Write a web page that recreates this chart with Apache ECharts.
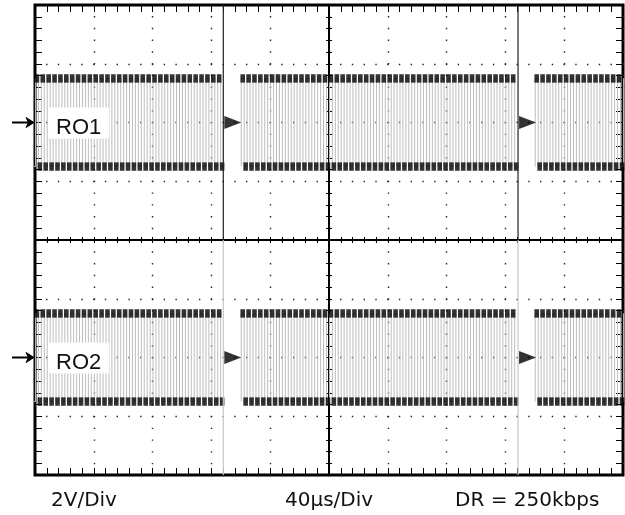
<!DOCTYPE html>
<html><head><meta charset="utf-8">
<script src="https://cdn.jsdelivr.net/npm/echarts@6/dist/echarts.min.js"></script>
<style>html,body{margin:0;padding:0;background:#fff}#c{width:625px;height:515px}</style>
</head><body><div id="c"></div>
<script>
// ---- data ----
const channelNames = ['RO1', 'RO2'];
const channelGroundV = [4, -4];        // arrow / marker level of each trace (V on screen)
const channelHighV = [5.5, -2.5];      // high level of each trace
const channelLowV = [2.5, -5.5];       // low level of each trace
const burstStartUs = [-259.7, -59.7, 140.3]; // first rising edge of each burst (µs, 0 = screen centre)
const burstPulses = [47, 47, 47];      // pulses in each burst
const pulsePeriodUs = 4;               // one pulse every 4 µs
const markerTimesUs = [-71.9, 128.6];  // burst-end marker lines / triangles
const footerLabels = ['2V/Div', '40µs/Div', 'DR = 250kbps'];
const xMin = -200, xMax = 200, xStep = 40;   // 10 div x 40 µs
const yMin = -8, yMax = 8, yStep = 2;        // 8 div x 2 V

// ---- build series data ----
function edgeData(c) {
  const d = [], hi = channelHighV[c], lo = channelLowV[c], half = pulsePeriodUs / 2;
  burstStartUs.forEach((t0, b) => {
    for (let k = 0; k < burstPulses[b]; k++) {
      const t = t0 + k * pulsePeriodUs;
      d.push([t, lo], [t, hi], [t + half, hi], [t + half, lo]);
    }
    d.push([t0 + burstPulses[b] * pulsePeriodUs, lo]);
    d.push([t0 + burstPulses[b] * pulsePeriodUs + 1, '-']);
  });
  return d;
}
function levelData(c) {
  const d = [], hi = channelHighV[c], lo = channelLowV[c], half = pulsePeriodUs / 2;
  burstStartUs.forEach((t0, b) => {
    for (let k = 0; k < burstPulses[b]; k++) {
      const t = t0 + k * pulsePeriodUs;
      if (t + half / 2 >= xMin && t + half / 2 <= xMax) d.push([t + half / 2, hi]);
      if (t + 1.5 * half >= xMin && t + 1.5 * half <= xMax) d.push([t + 1.5 * half, lo]);
    }
  });
  return d;
}
const upperMarker = [], lowerMarker = [], triData = [];
markerTimesUs.forEach(m => {
  upperMarker.push([m, yMax], [m, 0], [m, '-']);
  lowerMarker.push([m, 0], [m, yMin], [m, '-']);
  channelGroundV.forEach(g => triData.push([m, g]));
});

const black = '#000';
function xAx(pos, o) {
  return Object.assign({
    type: 'value', min: xMin, max: xMax, interval: xStep, position: pos,
    axisLabel: { show: false }, splitLine: { show: false },
    axisLine: { show: false, onZero: false },
    axisTick: { show: true, inside: true, length: 7, lineStyle: { color: black, width: 1 } },
    minorTick: { show: true, splitNumber: 5, length: 7, lineStyle: { color: black, width: 1 } }
  }, o || {});
}
function yAx(pos, o) {
  return Object.assign({
    type: 'value', min: yMin, max: yMax, interval: yStep, position: pos,
    axisLabel: { show: false }, splitLine: { show: false },
    axisLine: { show: false, onZero: false },
    axisTick: { show: true, inside: true, length: 7, lineStyle: { color: black, width: 1 } },
    minorTick: { show: true, splitNumber: 5, length: 7, lineStyle: { color: black, width: 1 } }
  }, o || {});
}
const dotLine = { show: true, lineStyle: { color: '#222', width: 1.4, type: [1.4, 10.36], dashOffset: 0.7 } };
const centerLine = { show: true, onZero: true, onZeroAxisIndex: 0, lineStyle: { color: black, width: 2 } };
const cTick = (inside) => ({ show: true, inside: inside, length: 3, lineStyle: { color: black, width: 1 } });
const cMinor = { show: true, splitNumber: 5, length: 3, lineStyle: { color: black, width: 1 } };

const series = [];
channelNames.forEach((n, c) => {
  series.push({
    name: n + ' edges', type: 'line', data: edgeData(c), xAxisIndex: 0, yAxisIndex: 0,
    showSymbol: false, symbol: 'none', connectNulls: false, clip: true, z: 2,
    lineStyle: { color: '#bdbdbd', width: 1 }, silent: true
  });
  series.push({
    name: n + ' levels', type: 'scatter', data: levelData(c), xAxisIndex: 0, yAxisIndex: 0,
    symbol: 'rect', symbolSize: [4.6, 8.4], itemStyle: { color: '#000' }, z: 3, silent: true
  });
});
series.push({ type: 'line', data: upperMarker, showSymbol: false, symbol: 'none', connectNulls: false, z: 4,
  lineStyle: { color: '#222', width: 1.2 }, silent: true });
series.push({ type: 'line', data: lowerMarker, showSymbol: false, symbol: 'none', connectNulls: false, z: 4,
  lineStyle: { color: '#c8c8c8', width: 1.2 }, silent: true });
series.push({ type: 'scatter', data: triData, symbol: 'path://M0,0 L17,6.5 L0,13 Z', symbolSize: [17, 13],
  symbolOffset: [9.5, 0], itemStyle: { color: '#000' }, z: 5, silent: true });

const chart = echarts.init(document.getElementById('c'), null, { renderer: 'canvas' });
chart.setOption({
  animation: false,
  backgroundColor: '#fff',
  grid: { left: 35, right: 2, top: 5, bottom: 40, show: true, borderColor: '#000', borderWidth: 3,
    backgroundColor: '#fff', containLabel: false, outerBoundsMode: 'none' },
  xAxis: [
    xAx('bottom', { splitLine: dotLine }),
    xAx('top'),
    xAx('bottom', { axisLine: centerLine, axisTick: cTick(true), minorTick: cMinor }),
    xAx('bottom', { axisLine: centerLine, axisTick: cTick(false), minorTick: cMinor })
  ],
  yAxis: [
    yAx('left', { splitLine: dotLine }),
    yAx('right'),
    yAx('left', { axisLine: centerLine, axisTick: cTick(true), minorTick: cMinor }),
    yAx('left', { axisLine: centerLine, axisTick: cTick(false), minorTick: cMinor })
  ],
  series: series
});

// ---- texts and ground arrows ----
const graphics = [];
channelNames.forEach((n, c) => {
  const y = chart.convertToPixel({ gridIndex: 0 }, [xMin, channelGroundV[c]])[1];
  graphics.push({ type: 'rect', shape: { x: 48, y: y - 15, width: 61, height: 31 }, style: { fill: '#fff' }, z: 100 });
  graphics.push({ type: 'text', x: 56, y: y + 5, z: 101,
    style: { text: n, fill: '#111', font: '22px "Liberation Sans", Arial, sans-serif', verticalAlign: 'middle', align: 'left' } });
  graphics.push({ type: 'line', shape: { x1: 12, y1: y, x2: 31, y2: y }, style: { stroke: '#000', lineWidth: 2 }, z: 100 });
  graphics.push({ type: 'polygon', shape: { points: [[26, y - 5], [34, y], [26, y + 5], [28.5, y]] }, style: { fill: '#000', stroke: '#000', lineWidth: 1 }, z: 100 });
});
const footerX = [51, 285, 455];
footerLabels.forEach((t, i) => {
  graphics.push({ type: 'text', x: footerX[i], y: 501, z: 101,
    style: { text: t, fill: '#111', font: '20px "DejaVu Sans", sans-serif', verticalAlign: 'middle', align: 'left' } });
});
chart.setOption({ graphic: graphics });
</script></body></html>
